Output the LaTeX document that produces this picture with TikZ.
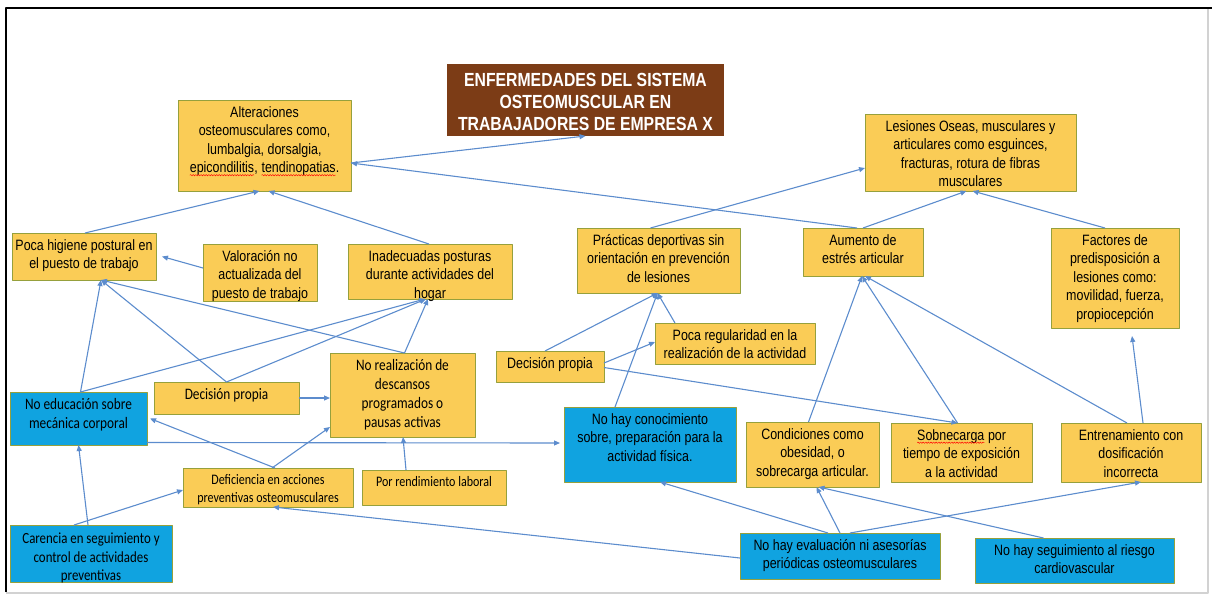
\documentclass[tikz,border=0pt]{standalone}
\usepackage{fontspec}
\usetikzlibrary{arrows.meta,decorations.pathmorphing}
\newfontfamily\arialn[FakeStretch=0.83]{Liberation Sans}
\newfontfamily\calibn[FakeStretch=0.83]{Carlito}
\definecolor{boxfill}{RGB}{250,204,86}
\definecolor{boxline}{RGB}{150,160,60}
\definecolor{bluefill}{RGB}{16,163,224}
\definecolor{titlefill}{RGB}{124,60,22}
\definecolor{linkcol}{RGB}{92,140,205}
% red spell-check wave under a word
\newcommand\spellwave[1]{\tikz[baseline=(sw.base)]{\node[inner sep=0pt, outer sep=0pt, anchor=center, shift={(0,0)}] (sw) {#1};
  \draw[red, line width=0.45pt, decorate, decoration={snake, amplitude=0.7pt, segment length=2.6pt}] ([yshift=-2.6pt]sw.base west) -- ([yshift=-2.6pt]sw.base east);}}
% box: name, box style, text style, x1, y1, x2, y2, text
\newcommand\bx[8]{%
  \node[#2, minimum width={(#6)-(#4)}, minimum height={(#7)-(#5)}] (#1) at ({((#4)+(#6))/2},{((#5)+(#7))/2}) {};
  \node[#3] (#1-t) at (#1.north) {#8};}
\begin{document}
\begin{tikzpicture}[x=1pt, y=-1pt, line join=round,
  ybox/.style={rectangle, draw=boxline, fill=boxfill, line width=0.8pt, inner sep=0pt, outer sep=0pt},
  bbox/.style={ybox, fill=bluefill},
  tbox/.style={rectangle, fill=titlefill, draw=none, inner sep=0pt, outer sep=0pt},
  atext/.style={anchor=north, align=center, inner sep=0pt, yshift=-6pt, font=\arialn\fontsize{15}{18.5}\selectfont},
  ctext/.style={anchor=north, align=center, inner sep=0pt, yshift=-6pt, font=\calibn\fontsize{14.5}{18}\selectfont},
  ctextl/.style={ctext, font=\calibn\fontsize{16}{19}\selectfont},
  ctextm/.style={ctext, yshift=-2pt, font=\calibn\fontsize{15.5}{18.5}\selectfont},
  ttext/.style={anchor=north, align=center, inner sep=0pt, yshift=-9pt, text=white, font=\arialn\bfseries\fontsize{19}{22}\selectfont},
  link/.style={draw=linkcol, line width=1.1pt, -{Triangle[length=6pt,width=5pt]}}]
\useasboundingbox (0,0) rectangle (1212,598);
% page frame
\draw[gray!35, line width=2pt] (1208,8) -- (1208,593) -- (6,593);
\draw[black, line width=2.5pt] (6,592) -- (6,8) -- (1212,8);

\bx{title}{tbox}{ttext}{447}{64}{724}{136}{ENFERMEDADES DEL SISTEMA\\OSTEOMUSCULAR EN\\TRABAJADORES DE EMPRESA X}
\bx{alt}{ybox}{atext}{178}{100}{351}{191}{Alteraciones\\osteomusculares como,\\lumbalgia, dorsalgia,\\\spellwave{epicondilitis}, \spellwave{tendinopatias}.}
\bx{les}{ybox}{atext}{865}{114}{1076}{191}{Lesiones Oseas, musculares y\\articulares como esguinces,\\fracturas, rotura de fibras\\musculares}
\bx{poca}{ybox}{atext}{12}{233}{156}{280}{Poca higiene postural en\\el puesto de trabajo}
\bx{val}{ybox}{atext}{203}{244}{317}{301}{Valoración no\\actualizada del\\puesto de trabajo}
\bx{inad}{ybox}{atext}{348}{244}{512}{299}{Inadecuadas posturas\\durante actividades del\\hogar}
\bx{prac}{ybox}{atext}{577}{228}{740}{293}{Prácticas deportivas sin\\orientación en prevención\\de lesiones}
\bx{aum}{ybox}{atext}{803}{228}{923}{276}{Aumento de\\estrés articular}
\bx{fac}{ybox}{atext}{1051}{228}{1179}{328}{Factores de\\predisposición a\\lesiones como:\\movilidad, fuerza,\\propiocepción}
\bx{reg}{ybox}{atext}{655}{323}{815}{364}{Poca regularidad en la\\realización de la actividad}
\bx{decr}{ybox}{atext}{496}{351}{604}{382}{Decisión propia}
\bx{decl}{ybox}{ctextl}{154}{382}{299}{414}{Decisión propia}
\bx{noreal}{ybox}{ctextl}{330}{353}{475}{437}{No realización de\\descansos\\programados o\\pausas activas}
\bx{noedu}{bbox}{ctextl}{10}{392}{147}{445}{No educación sobre\\mecánica corporal}
\bx{conoc}{bbox}{atext}{564}{407}{736}{482}{No hay conocimiento\\sobre, preparación para la\\actividad física.}
\bx{cond}{ybox}{atext}{746}{422}{879}{487}{Condiciones como\\obesidad, o\\sobrecarga articular.}
\bx{sob}{ybox}{atext}{891}{423}{1032}{482}{\spellwave{Sobnecarga} por\\tiempo de exposición\\a la actividad}
\bx{ent}{ybox}{atext}{1061}{423}{1201}{482}{Entrenamiento con\\dosificación\\incorrecta}
\bx{def}{ybox}{ctext}{183}{468}{353}{507}{Deficiencia en acciones\\preventivas osteomusculares}
\bx{rend}{ybox}{ctext}{362}{470}{506}{505}{Por rendimiento laboral}
\bx{car}{bbox}{ctextm}{10}{525}{172}{582}{Carencia en seguimiento y\\control de actividades\\preventivas}
\bx{eval}{bbox}{atext}{740}{533}{940}{579}{No hay evaluación ni asesorías\\periódicas osteomusculares}
\bx{seg}{bbox}{atext}{975}{538}{1174}{583}{No hay seguimiento al riesgo\\cardiovascular}

% connectors
\draw[link] ([yshift=-17.5pt]alt.east) -- (title.south);
\draw[link] ([xshift=-6pt]aum.north) -- ([yshift=-17.5pt]alt.east);
\draw[link] ([xshift=1pt]poca.north) -- ([xshift=-5pt]alt.south);
\draw[link] ([xshift=-1pt]inad.north) -- ([xshift=4pt]alt.south);
\draw[link] ([yshift=4.5pt]val.west) -- ([xshift=6pt]poca.east);
\draw[link] ([xshift=2pt]noedu.north) -- ([xshift=17pt]poca.south);
\draw[link] (decl.north) -- ([xshift=17pt]poca.south);
\draw[link] ([xshift=2pt]noreal.north) -- ([xshift=17pt]poca.south);
\draw[link] ([xshift=2pt]noreal.north) -- ([xshift=-2pt]inad.south);
\draw[link] ([xshift=2pt]noedu.north) -- ([xshift=-5pt]inad.south);
\draw[link] (decl.north) -- ([xshift=-4pt]inad.south);
\draw[link] (decl.east) -- ([yshift=-3pt]noreal.west);
\draw[link] ([xshift=7pt]def.north) -- ([xshift=3pt]noedu.east);
\draw[link] ([xshift=4pt]def.north) -- ([yshift=-32pt]noreal.west);
\draw[link] ([yshift=-24pt]noedu.east) -- ([xshift=-4pt,yshift=1.5pt]conoc.west);
\draw[link] ([xshift=-28pt]rend.north) -- ([xshift=0.5pt]noreal.south);
\draw[link] ([xshift=-3pt]car.north) -- (noedu.south);
\draw[link] ([xshift=-17pt]car.north) -- ([yshift=-2.5pt]def.west);
\draw[link] ([yshift=-2pt]eval.west) -- ([xshift=5pt]def.south);
\draw[link] ([xshift=-12pt]eval.north) -- ([xshift=10pt]conoc.south);
\draw[link] (eval.north) -- ([xshift=4pt]cond.south);
\draw[link] ([xshift=10pt]eval.north) -- ([xshift=10pt]ent.south);
\draw[link] ([xshift=-31pt]seg.north) -- ([xshift=6pt]cond.south);
\draw[link] ([xshift=-5pt]decr.north) -- ([xshift=-1pt]prac.south);
\draw[link] ([xshift=-35pt]conoc.north) -- ([xshift=-1pt]prac.south);
\draw[link] ([xshift=-60pt]reg.north) -- ([xshift=-1pt]prac.south);
\draw[link] ([yshift=3.5pt]decr.east) -- ([yshift=1.5pt]reg.west);
\draw[link] ([yshift=-1pt]decr.east) -- ([xshift=-4pt]sob.north);
\draw[link] ([xshift=-4pt]cond.north) -- ([xshift=-1pt]aum.south);
\draw[link] ([xshift=-4pt]sob.north) -- ([xshift=-1pt]aum.south);
\draw[link] ([xshift=-4pt]ent.north) -- ([xshift=2pt]aum.south);
\draw[link] ([xshift=12pt]ent.north) -- ([xshift=17pt,yshift=-8pt]fac.south);
\draw[link] (aum.north) -- ([xshift=-4pt]les.south);
\draw[link] ([xshift=-10pt]fac.north) -- ([xshift=2pt]les.south);
\draw[link] ([xshift=-8pt]prac.north) -- ([yshift=-15.5pt]les.west);
\end{tikzpicture}
\end{document}
